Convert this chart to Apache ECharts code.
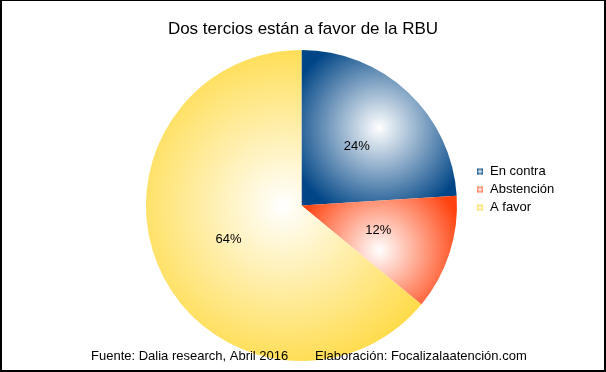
<!DOCTYPE html>
<html><head><meta charset="utf-8">
<script src="https://cdn.jsdelivr.net/npm/echarts@6/dist/echarts.min.js"></script>
<style>
html,body{margin:0;padding:0;background:#fff;}
#c{width:606px;height:372px;position:relative;}
#b{position:absolute;left:0;top:0;width:606px;height:372px;box-sizing:border-box;border-left:2px solid #000;border-top:1px solid #000;border-right:2px solid #000;border-bottom:2px solid #000;pointer-events:none;}
</style></head>
<body>
<div id="c"></div><div id="b"></div>
<script>
const titleText = 'Dos tercios están a favor de la RBU';
const categories = ['En contra', 'Abstención', 'A favor'];
const values = [24, 12, 64];
const baseColors = ['#004586', '#ff420e', '#ffd320'];
const footerLeft = 'Fuente: Dalia research, Abril 2016';
const footerRight = 'Elaboración: Focalizalaatención.com';
const gradRadius = [0.6, 0.78, 0.75];

function grad(c, r){
  return {type:'radial', x:0.5, y:0.5, r:r,
    colorStops:[{offset:0,color:'#ffffff'},{offset:1,color:c}]};
}
const chart = echarts.init(document.getElementById('c'), null, {renderer:'canvas'});
const FONT = '"Liberation Sans", Arial, sans-serif';
chart.setOption({
  animation:false,
  backgroundColor:'#fff',
  title:{text:titleText, left:'center', top:16,
    textStyle:{fontFamily:FONT, fontSize:17, fontWeight:'normal', color:'#000'}},
  legend:{orient:'vertical', left:477, top:165, padding:0, itemWidth:6, itemHeight:6, itemGap:5,
    icon:'rect', data:categories,
    textStyle:{fontFamily:FONT, fontSize:13, color:'#000', padding:[0,0,0,2]}},
  graphic:[
    {type:'text', z:100, left:91, top:350, style:{text:footerLeft, font:'13px "Liberation Sans", Arial, sans-serif', fill:'#000'}},
    {type:'text', z:100, left:315, top:350, style:{text:footerRight, font:'13px "Liberation Sans", Arial, sans-serif', fill:'#000'}}
  ],
  series:[{
    type:'pie', center:[301.5,205.5], radius:155.5, startAngle:90, clockwise:true, z:1,
    label:{show:true, position:'inside', formatter:'{d}%', fontFamily:FONT, fontSize:13, color:'#000'},
    labelLine:{show:false},
    emphasis:{disabled:true},
    data: categories.map((n,i)=>({name:n, value:values[i], itemStyle:{color:grad(baseColors[i], gradRadius[i])}}))
  }]
});
</script>
</body></html>
